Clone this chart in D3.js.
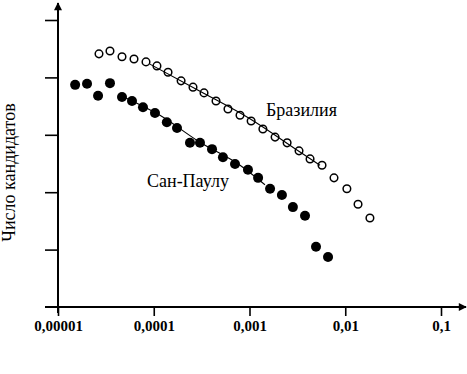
<!DOCTYPE html>
<html>
<head>
<meta charset="utf-8">
<script src="https://cdn.jsdelivr.net/npm/d3@7"></script>
<style>
  html, body { margin: 0; padding: 0; background: #fff; }
  svg { display: block; }
</style>
</head>
<body>
<svg id="chart" width="467" height="374"></svg>
<script>
// ---- data ----
const xTickValues = [0.00001, 0.0001, 0.001, 0.01, 0.1];
const xTickLabels = ["0,00001", "0,0001", "0,001", "0,01", "0,1"];
const yTickValues = [1, 2, 3, 4, 5];

const brazilX = [2.68e-5, 3.49e-5, 4.66e-5, 6.22e-5, 8.30e-5, 1.08e-4, 1.41e-4, 1.93e-4, 2.57e-4, 3.35e-4,
                 4.47e-4, 5.96e-4, 7.96e-4, 1.04e-3, 1.38e-3, 1.85e-3, 2.47e-3, 3.29e-3, 4.29e-3, 5.72e-3,
                 7.63e-3, 1.04e-2, 1.36e-2, 1.81e-2];
const brazilY = [4.41, 4.46, 4.36, 4.32, 4.27, 4.20, 4.09, 3.94, 3.83, 3.73,
                 3.59, 3.45, 3.34, 3.24, 3.10, 2.96, 2.86, 2.72, 2.58, 2.47,
                 2.25, 2.06, 1.79, 1.55];

const spX = [1.51e-5, 2.01e-5, 2.62e-5, 3.49e-5, 4.66e-5, 5.93e-5, 7.72e-5, 1.03e-4, 1.37e-4, 1.75e-4,
             2.39e-4, 3.04e-4, 4.06e-4, 5.28e-4, 7.06e-4, 9.64e-4, 1.23e-3, 1.64e-3, 2.18e-3, 2.84e-3,
             3.80e-3, 4.95e-3, 6.61e-3];
const spY = [3.87, 3.89, 3.68, 3.90, 3.66, 3.59, 3.48, 3.38, 3.22, 3.12,
             2.86, 2.86, 2.75, 2.61, 2.49, 2.39, 2.25, 2.06, 1.95, 1.74,
             1.59, 1.05, 0.87];

const brazilFitX = [9.14e-5, 3.04e-4, 1.01e-3, 3.37e-3, 5.45e-3];
const brazilFitY = [4.23, 3.76, 3.28, 2.70, 2.47];
const spFitX = [4.44e-5, 1.16e-4, 3.04e-4, 7.96e-4, 1.45e-3];
const spFitY = [3.69, 3.34, 2.87, 2.47, 2.13];

const seriesLabels = ["Бразилия", "Сан-Паулу"];
const yAxisTitle = "Число кандидатов";

// ---- chart ----
const svg = d3.select("#chart");
const font = "Liberation Serif, Times New Roman, serif";

const x = d3.scaleLog().domain([1e-5, 0.1]).range([58, 441]);
const y = d3.scaleLinear().domain([0, 5]).range([307, 20]);

svg.append("defs").append("marker")
  .attr("id", "arrow").attr("viewBox", "0 0 10 10")
  .attr("refX", 9).attr("refY", 5)
  .attr("markerWidth", 10).attr("markerHeight", 8)
  .attr("markerUnits", "userSpaceOnUse")
  .attr("orient", "auto")
  .append("path").attr("d", "M0,0 L10,5 L0,10 Z").attr("fill", "#000");

// x axis
const xAxis = d3.axisBottom(x)
  .tickValues(xTickValues)
  .tickFormat((d, i) => xTickLabels[i])
  .tickSize(9).tickPadding(4);
const gx = svg.append("g").attr("transform", `translate(0,${y(0)})`).call(xAxis);
gx.select(".domain").remove();
gx.selectAll(".tick line").attr("stroke", "#000").attr("stroke-width", 1.6);
gx.selectAll(".tick text")
  .style("font-family", font).style("font-size", "15px").style("font-weight", "bold").attr("fill", "#000");

svg.append("line")
  .attr("x1", 45).attr("x2", 466).attr("y1", y(0)).attr("y2", y(0))
  .attr("stroke", "#000").attr("stroke-width", 2).attr("marker-end", "url(#arrow)");

// y axis
const yAxis = d3.axisLeft(y).tickValues(yTickValues).tickFormat("").tickSize(13);
const gy = svg.append("g").attr("transform", `translate(${x(1e-5)},0)`).call(yAxis);
gy.select(".domain").remove();
gy.selectAll(".tick line").attr("stroke", "#000").attr("stroke-width", 1.6);

svg.append("line")
  .attr("x1", x(1e-5)).attr("x2", x(1e-5)).attr("y1", y(0) + 6).attr("y2", 3)
  .attr("stroke", "#000").attr("stroke-width", 2).attr("marker-end", "url(#arrow)");

// y title
svg.append("text")
  .attr("transform", `translate(15,${(100 + 245) / 2}) rotate(-90)`)
  .attr("text-anchor", "middle")
  .style("font-family", font).style("font-size", "18px").attr("fill", "#000")
  .text(yAxisTitle);

// fit lines
const line = d3.line().curve(d3.curveMonotoneX).x(d => x(d[0])).y(d => y(d[1]));
svg.append("path")
  .datum(brazilFitX.map((v, i) => [v, brazilFitY[i]]))
  .attr("d", line).attr("fill", "none").attr("stroke", "#000").attr("stroke-width", 1.1);
svg.append("path")
  .datum(spFitX.map((v, i) => [v, spFitY[i]]))
  .attr("d", line).attr("fill", "none").attr("stroke", "#000").attr("stroke-width", 1.1);

// points
svg.append("g").selectAll("circle")
  .data(brazilX.map((v, i) => [v, brazilY[i]]))
  .join("circle")
  .attr("cx", d => x(d[0])).attr("cy", d => y(d[1])).attr("r", 3.8)
  .attr("fill", "none").attr("stroke", "#000").attr("stroke-width", 1.5);

svg.append("g").selectAll("circle")
  .data(spX.map((v, i) => [v, spY[i]]))
  .join("circle")
  .attr("cx", d => x(d[0])).attr("cy", d => y(d[1])).attr("r", 5)
  .attr("fill", "#000");

// series labels
svg.append("text").attr("x", 266).attr("y", 116)
  .style("font-family", font).style("font-size", "18px").attr("fill", "#000")
  .text(seriesLabels[0]);
svg.append("text").attr("x", 147).attr("y", 187)
  .style("font-family", font).style("font-size", "18px").attr("fill", "#000")
  .text(seriesLabels[1]);
</script>
</body>
</html>
